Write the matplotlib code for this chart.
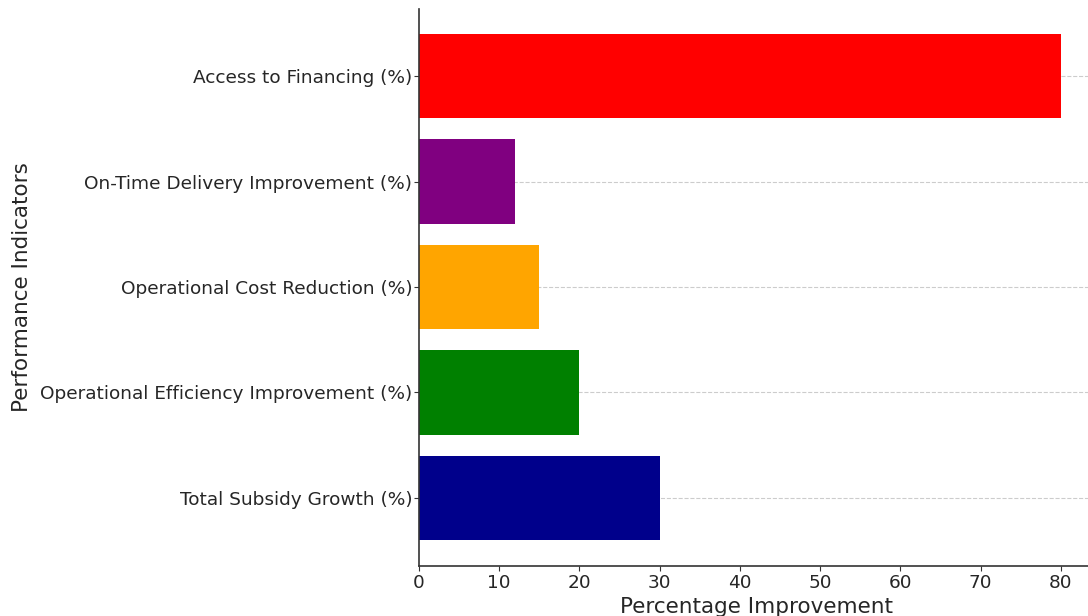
import matplotlib
matplotlib.use("Agg")
import matplotlib.pyplot as plt

categories = [
    "Total Subsidy Growth (%)",
    "Operational Efficiency Improvement (%)",
    "Operational Cost Reduction (%)",
    "On-Time Delivery Improvement (%)",
    "Access to Financing (%)",
]
values = [30, 20, 15, 12, 80]
colors = ["darkblue", "green", "orange", "purple", "red"]

fig = plt.figure(figsize=(10.88, 6.16), dpi=100)
W, H = 1088, 616
left, right, bottom, top = 419, 1093, 565.5, 8.5
ax = fig.add_axes([left / W, (H - bottom) / H, (right - left) / W, (bottom - top) / H])

ax.barh(categories, values, color=colors, height=0.8, zorder=2)
ax.set_xlim(0, 84)
ax.set_xticks(range(0, 81, 10))
ax.grid(axis="y", linestyle="--", color="#cccccc", linewidth=0.8, zorder=0)
for s in ["top", "right"]:
    ax.spines[s].set_visible(False)
for s in ["left", "bottom"]:
    ax.spines[s].set_color("#333333")
    ax.spines[s].set_linewidth(1.2)
ax.tick_params(axis="both", labelsize=13.3, colors="#333333", labelcolor="#262626")
ax.tick_params(axis="y", pad=1.2)
ax.tick_params(axis="x", pad=2.5)
ax.set_xlabel("Percentage Improvement", fontsize=15.5, color="#262626", labelpad=3.5)
ax.set_ylabel("Performance Indicators", fontsize=15.5, color="#262626", labelpad=6)

fig.savefig("out.png", dpi=100)
